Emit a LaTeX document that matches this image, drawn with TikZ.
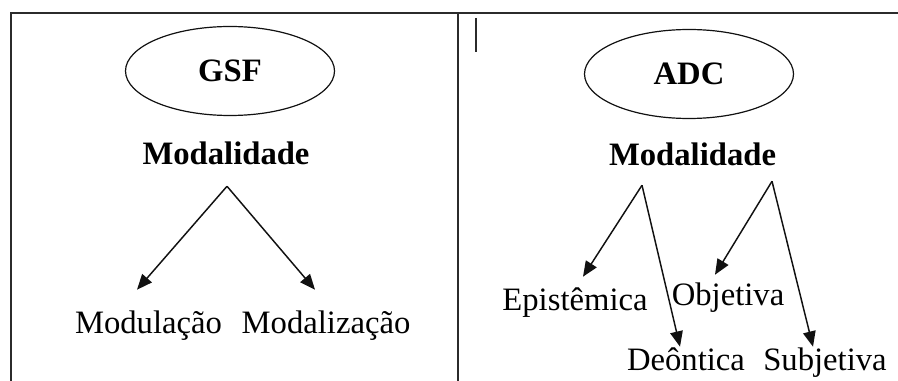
\documentclass[tikz,border=0pt]{standalone}
\usepackage{fontspec}
\setmainfont{Liberation Serif}
\usetikzlibrary{arrows.meta, positioning, shapes.geometric, calc}
\definecolor{inkBlack}{HTML}{111111}
\definecolor{ruleGray}{HTML}{2B2B2B}

\begin{document}
\begin{tikzpicture}[x=0.75pt, y=-0.75pt,
    font=\fontsize{24.5}{29}\selectfont,
    tableline/.style={draw=ruleGray, line width=1.2pt},
    theory/.style={draw=inkBlack, ellipse, line width=0.9pt,
                   minimum width=156.75pt, minimum height=66.75pt,
                   font=\fontsize{24.5}{29}\selectfont\bfseries},
    term/.style={inner sep=0pt, text height=18.4pt, text depth=6pt, anchor=base},
    head/.style={term, font=\fontsize{24.5}{29}\selectfont\bfseries},
    branch/.style={draw=inkBlack, line width=1.1pt,
                   -{Triangle[length=11.5pt, width=9.5pt]}}]
  \useasboundingbox (0,0) rectangle (898,381);

  % table frame
  \draw[tableline] (10,13) -- (898,13);
  \draw[tableline] (11,13) -- (11,381);
  \draw[tableline] (458,13) -- (458,381);
  \draw[draw=ruleGray, line width=0.8pt] (476,18) -- (476,52);

  % left cell
  \node[theory] (gsf) at (230,71) {GSF};
  \node[head] (modL) at (226,164) {Modalidade};
  \node[term] (modulacao) at (148.5,333) {Modulação};
  \node[term] (modalizacao) at (326,333) {Modalização};
  \coordinate (apexL) at ($(modL.south)+(1,14)$);
  \draw[branch] (apexL) -- ($(modulacao.north)+(-11.5,-18.5)$);
  \draw[branch] (apexL) -- ($(modalizacao.north)+(-11,-18.5)$);

  % right cell
  \node[theory] (adc) at (689,74) {ADC};
  \node[head] (modR) at (692.5,165) {Modalidade};
  \node[term] (epistemica) at (575,310) {Epistêmica};
  \node[term] (objetiva) at (728,305) {Objetiva};
  \node[term] (deontica) at (686,370) {Deôntica};
  \node[term] (subjetiva) at (825,370) {Subjetiva};
  \coordinate (apexA) at ($(modR.south)+(-50.5,12)$);
  \coordinate (apexB) at ($(modR.south)+(79.5,8)$);
  \draw[branch] (apexA) -- ($(epistemica.north)+(8,-8.5)$);
  \draw[branch] (apexA) -- ($(deontica.north)+(-6,1.5)$);
  \draw[branch] (apexB) -- ($(objetiva.north)+(-13,-5.5)$);
  \draw[branch] (apexB) -- ($(subjetiva.north)+(-12,1.5)$);
\end{tikzpicture}
\end{document}
